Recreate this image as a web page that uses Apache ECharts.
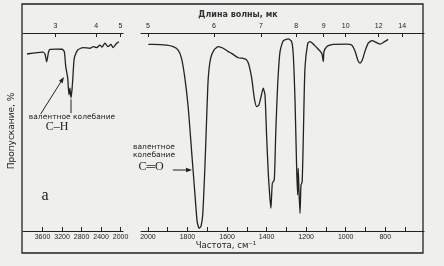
<!DOCTYPE html>
<html><head><meta charset="utf-8">
<script src="https://cdn.jsdelivr.net/npm/echarts@6/dist/echarts.min.js"></script>
<style>html,body{margin:0;padding:0;background:#efefed;} #c{width:444px;height:266px;}</style>
</head><body><div id="c"></div>
<script>
// ---- data (wavenumber cm-1, transmission %) ----
const leftWavenumber = [3918,3590,3549,3514,3477,3446,3324,3200,3153,3125,3084,3057,3037,3016,2996,2981,2948,2879,2770,2627,2559,2489,2422,2381,2319,2258,2196,2155,2079,2032];
const leftTransmission = [89.4,90.3,89.4,85.4,90.4,91.7,91.9,91.8,90.6,83.3,77.3,68.7,72.2,67.2,71.2,76.3,87.4,91.4,92.6,92.3,93.1,92.6,93.9,92.9,94.9,93.1,94.3,92.6,94.8,95.6];
const rightWavenumber = [1998,1973,1905,1872,1847,1830,1813,1796,1779,1762,1751,1741,1732,1723,1712,1703,1695,1683,1666,1644,1619,1594,1577,1543,1518,1501,1489,1475,1462,1450,1439,1428,1417,1408,1400,1391,1383,1378,1371,1361,1354,1344,1332,1316,1290,1273,1265,1256,1248,1243,1240,1236,1231,1226,1220,1214,1206,1192,1181,1147,1121,1113,1110,1096,1063,995,970,953,939,928,914,902,886,867,843,826,806,785];
const rightTransmission = [94.3,94.3,93.9,93.1,91.4,87.2,77.1,62.1,40.1,18.2,4.7,1.4,2.2,8.1,31.8,57.1,77.1,87.2,91.4,93.1,92.3,90.6,89.7,87.5,87.2,86.4,83.8,77.1,67.0,62.8,63.6,67.8,72.1,68.7,48.5,28.3,16.5,11.5,24.1,25.8,48.5,73.7,90.6,96.0,97.0,95.6,88.9,65.3,31.8,18.2,31.8,19.8,8.9,23.2,24.9,48.5,82.2,94.8,95.6,92.7,89.7,85.5,90.4,93.1,94.3,94.4,93.9,90.9,86.4,84.8,86.9,90.9,94.9,96.1,95.1,94.4,95.5,96.8];
// ---- tick labels ----
const leftFreqTicks = [3600,3200,2800,2400,2000];
const rightFreqTicks = [2000,1900,1800,1700,1600,1500,1400,1300,1200,1100,1000,900,800,700];
const rightFreqLabels = [2000,1800,1600,1400,1200,1000,800];
const leftWavelengthTicks = [3,4,5];
const rightWavelengthTicks = [5,6,7,8,9,10,12,14];

const INK = '#222';
const TICKFONT = 'Liberation Sans';
const chart = echarts.init(document.getElementById('c'), null, {renderer:'canvas'});

function freqAxis(grid, min, max, ticks, labels){
  return {type:'value', gridIndex:grid, position:'bottom', min:min, max:max, inverse:true,
    axisLine:{show:true, lineStyle:{color:INK, width:1.2}},
    axisTick:{show:true, inside:true, length:4, customValues:ticks, lineStyle:{color:INK, width:1}},
    axisLabel:{show:true, customValues:labels, margin:3, fontSize:7, color:INK, fontFamily:TICKFONT,
      formatter: v => String(Math.round(v))},
    splitLine:{show:false}};
}
function waveAxis(grid, min, max, microns){
  const vals = microns.map(l => 10000/l);
  return {type:'value', gridIndex:grid, position:'top', min:min, max:max, inverse:true,
    axisLine:{show:true, lineStyle:{color:INK, width:1.2}},
    axisTick:{show:true, inside:true, length:4, customValues:vals, lineStyle:{color:INK, width:1}},
    axisLabel:{show:true, customValues:vals, margin:3, fontSize:7, color:INK, fontFamily:TICKFONT,
      formatter: v => String(Math.round(10000/v))},
    splitLine:{show:false}};
}

const option = {
  backgroundColor:'#efefed',
  animation:false,
  grid:[
    {left:23, top:33, width:100, height:198},
    {left:141, top:33, width:283, height:198}
  ],
  xAxis:[
    freqAxis(0, 1950, 4000, leftFreqTicks, leftFreqTicks),
    waveAxis(0, 1950, 4000, leftWavelengthTicks),
    freqAxis(1, 604, 2035, rightFreqTicks, rightFreqLabels),
    waveAxis(1, 604, 2035, rightWavelengthTicks)
  ],
  yAxis:[
    {type:'value', gridIndex:0, min:0, max:100, show:false},
    {type:'value', gridIndex:1, min:0, max:100, show:false}
  ],
  series:[
    {type:'line', xAxisIndex:0, yAxisIndex:0, showSymbol:false, smooth:0.2,
     lineStyle:{color:INK, width:1.3}, data:leftWavenumber.map((w,i)=>[w,leftTransmission[i]])},
    {type:'line', xAxisIndex:2, yAxisIndex:1, showSymbol:false, smooth:0.2,
     lineStyle:{color:INK, width:1.3}, data:rightWavenumber.map((w,i)=>[w,rightTransmission[i]])}
  ]
};
chart.setOption(option);

function px(gridSeries, w, t){ return chart.convertToPixel({seriesIndex:gridSeries}, [w,t]); }
function arrow(tail, tip){
  const dx = tip[0]-tail[0], dy = tip[1]-tail[1], L = Math.hypot(dx,dy);
  const ux = dx/L, uy = dy/L, s = 6, h = 2.2;
  const bx = tip[0]-ux*s, by = tip[1]-uy*s;
  return [
    {type:'line', shape:{x1:tail[0], y1:tail[1], x2:bx, y2:by}, style:{stroke:INK, lineWidth:1}},
    {type:'polygon', shape:{points:[tip,[bx-uy*h, by+ux*h],[bx+uy*h, by-ux*h]]}, style:{fill:INK}}
  ];
}
const chTip = px(0, 3160, 77.8), chTail = px(0, 3640, 59);
const chPeak = px(0, 3016, 66.5), chPeakEnd = px(0, 3016, 59.5);
const coTip = px(1, 1777, 30.8), coTail = px(1, 1874, 30.8);

const g = [
  {type:'rect', shape:{x:22, y:4, width:401, height:249}, style:{fill:null, stroke:INK, lineWidth:1.3}},
  {type:'text', x:238, y:15, style:{text:'Длина волны, мк', fontSize:8, fontWeight:'bold', fontFamily:'DejaVu Sans', fill:'#333', textAlign:'center', textVerticalAlign:'middle'}},
  {type:'text', x:226, y:246, style:{text:'Частота, см⁻¹', fontSize:8.5, fontFamily:'DejaVu Sans', fill:INK, textAlign:'center', textVerticalAlign:'middle'}},
  {type:'text', x:12, y:131, rotation:Math.PI/2, style:{text:'Пропускание, %', fontSize:9, fontFamily:'DejaVu Sans', fill:INK, textAlign:'center', textVerticalAlign:'middle'}},
  {type:'text', x:72, y:117, style:{text:'валентное колебание', fontSize:7.5, fontFamily:'DejaVu Sans', fill:INK, textAlign:'center', textVerticalAlign:'middle'}},
  {type:'text', x:57, y:127, style:{text:'C–H', fontSize:12, fontFamily:'Liberation Serif', fill:INK, textAlign:'center', textVerticalAlign:'middle'}},
  {type:'text', x:154, y:147, style:{text:'валентное', fontSize:7.5, fontFamily:'DejaVu Sans', fill:INK, textAlign:'center', textVerticalAlign:'middle'}},
  {type:'text', x:154, y:155, style:{text:'колебание', fontSize:7.5, fontFamily:'DejaVu Sans', fill:INK, textAlign:'center', textVerticalAlign:'middle'}},
  {type:'text', x:151, y:167, style:{text:'C═O', fontSize:12, fontFamily:'Liberation Serif', fill:INK, textAlign:'center', textVerticalAlign:'middle'}},
  {type:'text', x:45, y:196, style:{text:'a', fontSize:16, fontFamily:'Liberation Serif', fill:INK, textAlign:'center', textVerticalAlign:'middle'}},
  {type:'line', shape:{x1:chPeak[0], y1:chPeak[1], x2:chPeakEnd[0], y2:chPeakEnd[1]}, style:{stroke:INK, lineWidth:1}}
].concat(arrow(chTail, chTip), arrow(coTail, coTip));
chart.setOption({graphic:g});
</script></body></html>
